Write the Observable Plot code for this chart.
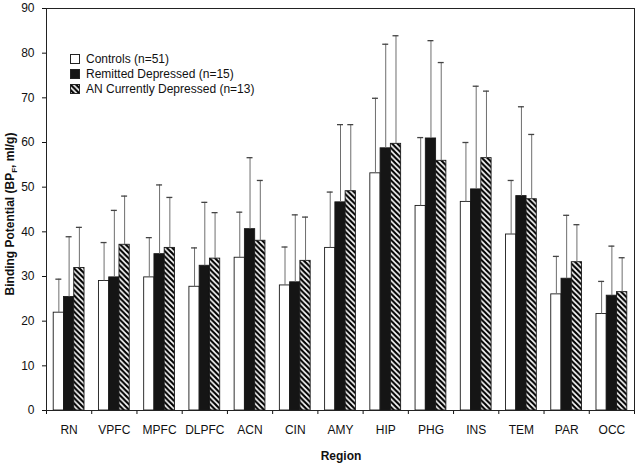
<!DOCTYPE html>
<html><head><meta charset="utf-8">
<script src="https://cdn.jsdelivr.net/npm/d3@7"></script>
<script src="https://cdn.jsdelivr.net/npm/@observablehq/plot@0.6"></script>
<style>
body{margin:0;background:#fff;font-family:"Liberation Sans",Arial,Helvetica,sans-serif;}
#chart{position:relative;width:636px;height:463px;}
#legend{position:absolute;left:70px;top:51px;font-size:12px;color:#111;}
#legend .row{display:flex;align-items:center;height:15.3px;}
#legend svg{margin-right:6px;}
</style></head><body><div id="chart"><div id="legend"></div></div>
<script>
const regions = ["RN","VPFC","MPFC","DLPFC","ACN","CIN","AMY","HIP","PHG","INS","TEM","PAR","OCC"];
const groups = ["Controls (n=51)", "Remitted Depressed (n=15)", "AN Currently Depressed (n=13)"];
const controls       = [21.9, 29.0, 29.8, 27.7, 34.2, 28.0, 36.4, 53.1, 45.8, 46.7, 39.4, 26.0, 21.6];
const controlsTop    = [29.4, 37.6, 38.7, 36.4, 44.4, 36.6, 48.9, 69.9, 61.1, 60.0, 51.5, 34.5, 28.9];
const remitted       = [25.4, 29.8, 35.0, 32.4, 40.6, 28.7, 46.6, 58.7, 60.9, 49.5, 48.0, 29.5, 25.7];
const remittedTop    = [38.9, 44.8, 50.5, 46.6, 56.6, 43.8, 64.0, 82.0, 82.8, 72.6, 68.0, 43.7, 36.8];
const current        = [31.9, 37.1, 36.4, 34.0, 38.0, 33.5, 49.1, 59.7, 55.9, 56.5, 47.3, 33.2, 26.5];
const currentTop     = [41.0, 48.0, 47.7, 44.3, 51.5, 43.3, 64.0, 83.9, 77.9, 71.5, 61.8, 41.6, 34.2];
const yTicks = [0,10,20,30,40,50,60,70,80,90];

const means = [controls, remitted, current];
const tops = [controlsTop, remittedTop, currentTop];
const fills = ["white", "#151515", "url(#hatch)"];
const data = regions.flatMap((r, i) => groups.map((g, j) => ({r, i, j, g, mean: means[j][i], top: tops[j][i]})));

const barW = 0.227, off = (1 - 3 * barW) / 2, cap = 0.066;
const bx1 = d => d.i + off + d.j * barW;
const bx2 = d => bx1(d) + barW;
const bxc = d => bx1(d) + barW / 2;

const bars = groups.map((g, j) => Plot.rectY(data.filter(d => d.j === j), {
  x1: bx1, x2: bx2, y1: 0, y2: "mean", fill: fills[j], stroke: "#1a1a1a", strokeWidth: 0.9
}));

const plot = Plot.plot({
  width: 636, height: 463,
  marginLeft: 46, marginRight: 2, marginTop: 8, marginBottom: 53,
  x: {domain: [0, 13]},
  y: {domain: [0, 90]},
  style: {fontFamily: '"Liberation Sans", Arial, sans-serif', fontSize: "12px", color: "#111", background: "white"},
  marks: [
    ...bars,
    Plot.ruleX(data, {x: bxc, y1: "mean", y2: "top", stroke: "#6e6e6e", strokeWidth: 1}),
    Plot.ruleY(data, {y: "top", x1: d => bxc(d) - cap, x2: d => bxc(d) + cap, stroke: "#444", strokeWidth: 1.3}),
    Plot.axisY({ticks: yTicks, tickSize: 4, tickPadding: 8, label: null, tickFormat: d3.format("d")}),
    Plot.axisX({ticks: d3.range(0, 14), tickSize: 4, tickFormat: () => "", label: null}),
    Plot.axisX({ticks: regions.map((r, i) => i + 0.5), tickSize: 0, tickPadding: 15, label: null,
                tickFormat: v => regions[Math.floor(v)]}),
    Plot.frame({stroke: "#222", strokeWidth: 1})
  ]
});

const P = 5.4;
const hatchDef = id => '<pattern id="' + id + '" patternUnits="userSpaceOnUse" width="' + P + '" height="' + P + '">' +
  '<rect width="' + P + '" height="' + P + '" fill="white"/>' +
  '<path d="M-1,-1 L' + (P + 1) + ',' + (P + 1) + ' M-1,' + (P - 1) + ' L1,' + (P + 1) + ' M' + (P - 1) + ',-1 L' + (P + 1) + ',1" stroke="#000" stroke-width="2.1"/></pattern>';

const svg = d3.select(plot);
svg.insert("defs", ":first-child").html(hatchDef("hatch"));

const yt = svg.append("text")
  .attr("transform", "translate(14,214) rotate(-90)")
  .attr("text-anchor", "middle")
  .attr("font-weight", "bold")
  .attr("font-size", 12)
  .attr("fill", "#111");
yt.append("tspan").text("Binding Potential (BP");
yt.append("tspan").attr("font-size", 8).attr("dy", 3).text("F");
yt.append("tspan").attr("dy", -3).text(", ml/g)");

svg.append("text")
  .attr("x", 341).attr("y", 460)
  .attr("text-anchor", "middle")
  .attr("font-weight", "bold")
  .attr("font-size", 12)
  .attr("fill", "#111")
  .text("Region");

document.getElementById("chart").prepend(plot);

const legend = d3.select("#legend");
groups.forEach((g, j) => {
  const row = legend.append("div").attr("class", "row");
  const s = row.append("svg").attr("width", 10).attr("height", 10);
  if (j === 2) s.append("defs").html(hatchDef("hatchL"));
  s.append("rect").attr("x", 0.5).attr("y", 0.5).attr("width", 9).attr("height", 9)
    .attr("fill", j === 2 ? "url(#hatchL)" : fills[j]).attr("stroke", "#222");
  row.append("span").text(g);
});
</script></body></html>
